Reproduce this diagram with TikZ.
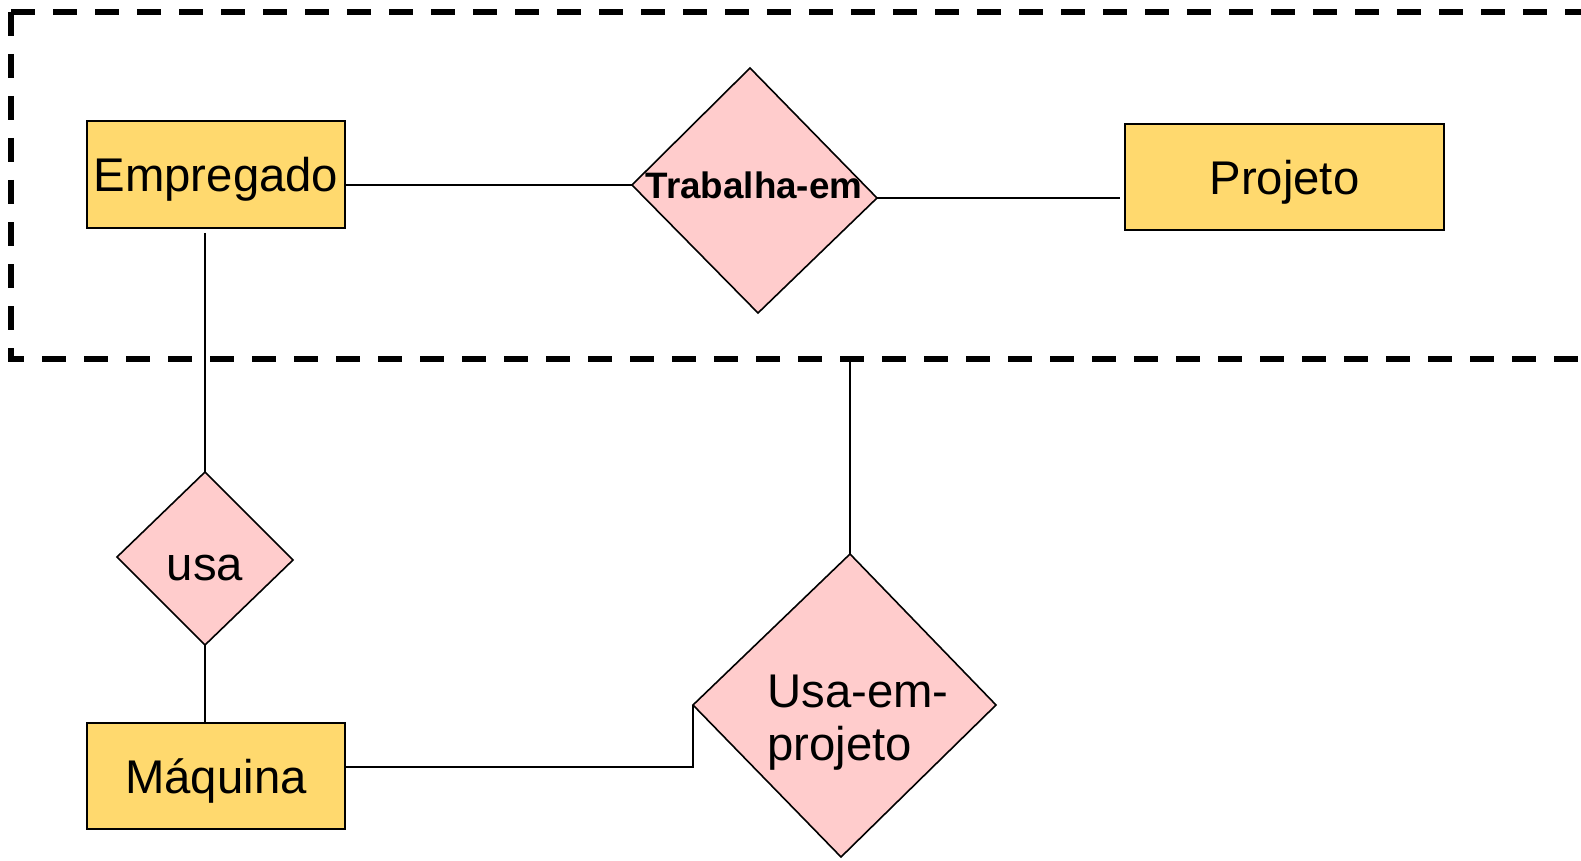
\documentclass[tikz,border=0pt]{standalone}
\usepackage{fontspec}
\setmainfont{Liberation Sans}
\definecolor{entfill}{HTML}{FFD96E}
\definecolor{relfill}{HTML}{FFCCCC}
\tikzset{
  entity/.style={draw=black, line width=1.6pt, fill=entfill, inner sep=0pt,
    text height=34pt, text depth=0pt, font=\fontsize{47.3}{56}\selectfont},
  relshape/.style={draw=black, line width=1.6pt, fill=relfill, line join=miter},
  reltext/.style={inner sep=0pt, font=\fontsize{47.3}{53.5}\selectfont},
  conn/.style={draw=black, line width=2pt},
  aggbox/.style={draw=black, line width=5.5pt, dash pattern=on 24pt off 18pt}
}
\begin{document}
\begin{tikzpicture}[x=1pt, y=-1pt]
\useasboundingbox (0,0) rectangle (1581,861);

% aggregation box (open on the right)
\coordinate (aggtl) at (11,12);
\coordinate (aggbl) at (11,359);
\coordinate (aggtr) at (1620,12);
\coordinate (aggbr) at (1620,359);
\draw[aggbox] (aggtl) -- (aggtr);
\draw[aggbox] (aggtl) -- (aggbl) -- (aggbr);

% entities
\node[entity, minimum width=258pt, minimum height=107pt] (emp) at (216,174.5) {Empregado};
\node[entity, minimum width=319pt, minimum height=106pt] (proj) at (1284.5,177) {Projeto};
\node[entity, minimum width=258pt, minimum height=106pt] (maq) at (216,776) {Máquina};

% Trabalha-em diamond
\coordinate (tet) at (750,68);
\coordinate (tel) at (632,185);
\coordinate (ter) at (877,198);
\coordinate (teb) at (758,313);
\filldraw[relshape] (tet) -- (ter) -- (teb) -- (tel) -- cycle;
\node[inner sep=0pt, anchor=base, font=\bfseries\fontsize{36.8}{44}\selectfont] (te) at (754,198) {Trabalha-em};

% usa diamond
\coordinate (ut) at (205,472);
\coordinate (ul) at (117,557);
\coordinate (ur) at (293,560);
\coordinate (ub) at (205,645);
\filldraw[relshape] (ut) -- (ur) -- (ub) -- (ul) -- cycle;
\node[reltext, anchor=base] (usa) at (205,580) {usa};

% Usa-em-projeto diamond
\coordinate (upt) at (850,554);
\coordinate (upl) at (693,705);
\coordinate (upr) at (996,705);
\coordinate (upb) at (841,857);
\filldraw[relshape] (upt) -- (upr) -- (upb) -- (upl) -- cycle;
\node[reltext, anchor=base west, text width=220pt, align=left] (uep) at (767,707) {Usa-em-\\projeto};

% connectors
\draw[conn] (emp.east |- tel) -- (tel);
\draw[conn] (ter) -- ([xshift=-4pt]proj.west |- ter);
\draw[conn] ([yshift=-4pt]ut |- emp.south) -- (ut);
\draw[conn] (ub) -- (ub |- maq.north);
\draw[conn] ([yshift=9pt]maq.east) -- ([yshift=9pt]maq.east -| upl) -- (upl);
\draw[conn] (upt) -- (upt |- aggbl);
\end{tikzpicture}
\end{document}
